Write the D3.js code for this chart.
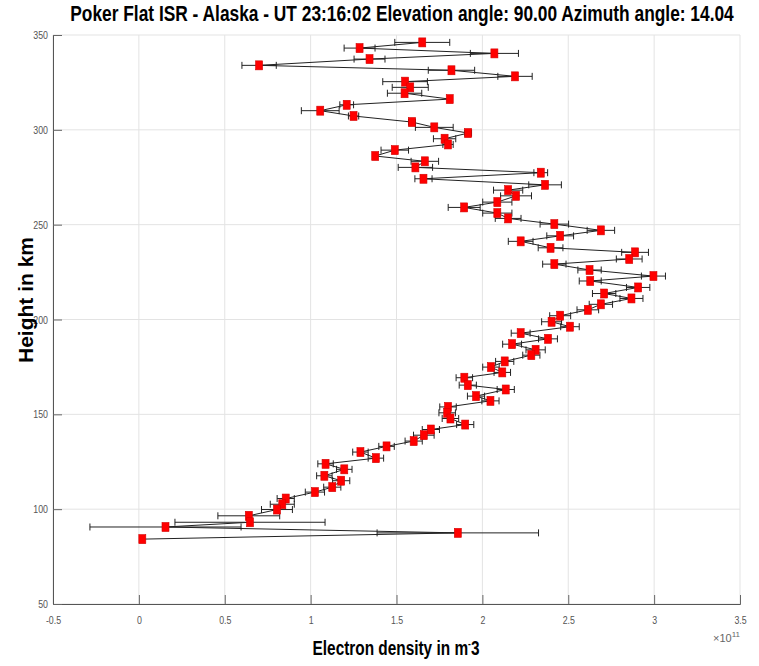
<!DOCTYPE html>
<html>
<head>
<meta charset="utf-8">
<script src="https://cdn.jsdelivr.net/npm/d3@7"></script>
<style>
    body { margin: 0; background: #fff; }
    text { font-family: "Liberation Sans", Arial, sans-serif; }
</style>
</head>
<body>
<div id="chart"></div>
<script>

// altitude in km
let heights = [346.1, 343.1, 340.3, 337.3, 334.0, 331.4, 328.2, 325.4, 322.4, 319.3,
    316.2, 313.2, 310.1, 307.3, 304.1, 301.3, 298.3, 295.3, 292.3, 289.3,
    286.2, 283.4, 280.2, 277.4, 274.2, 271.0, 268.2, 265.2, 261.9, 259.1,
    256.1, 253.3, 250.3, 247.0, 244.1, 241.2, 237.8, 235.4, 231.9, 229.2,
    226.1, 222.9, 220.3, 216.9, 213.7, 211.1, 208.0, 205.1, 202.0, 198.8,
    196.2, 192.8, 189.8, 187.0, 184.0, 181.2, 177.9, 174.9, 172.1, 169.3,
    165.4, 163.1, 159.6, 157.1, 153.9, 150.8, 147.8, 144.6, 142.0, 139.0,
    135.9, 133.1, 130.1, 126.9, 123.9, 121.0, 117.6, 115.0, 111.6, 109.0,
    105.6, 102.6, 99.8, 96.5, 93.1, 90.6, 87.5, 84.2];

// electron density, x 1e11 m^-3
let density = [1.65, 1.285, 2.07, 1.343, 0.70, 1.82, 2.19, 1.55, 1.58, 1.547,
    1.81, 1.21, 1.056, 1.25, 1.59, 1.72, 1.917, 1.78, 1.80, 1.49,
    1.376, 1.665, 1.61, 2.34, 1.657, 2.365, 2.15, 2.196, 2.087, 1.894,
    2.087, 2.15, 2.419, 2.69, 2.453, 2.223, 2.397, 2.889, 2.855, 2.419,
    2.624, 2.996, 2.628, 2.907, 2.709, 2.868, 2.69, 2.614, 2.453, 2.403,
    2.51, 2.223, 2.382, 2.173, 2.31, 2.285, 2.13, 2.05, 2.116, 1.895,
    1.915, 2.136, 1.963, 2.047, 1.80, 1.795, 1.814, 1.90, 1.70, 1.659,
    1.60, 1.442, 1.29, 1.38, 1.087, 1.196, 1.08, 1.178, 1.126, 1.025,
    0.855, 0.835, 0.804, 0.64, 0.647, 0.155, 1.857, 0.02];

// half width of the error bars
let densityErr = [0.16, 0.09, 0.14, 0.09, 0.10, 0.135, 0.10, 0.13, 0.105, 0.10,
    0.01, 0.04, 0.11, 0.03, 0.02, 0.11, 0.02, 0.065, 0.03, 0.08,
    0.01, 0.08, 0.10, 0.04, 0.05, 0.095, 0.085, 0.09, 0.085, 0.093,
    0.085, 0.075, 0.083, 0.08, 0.078, 0.072, 0.072, 0.078, 0.075, 0.068,
    0.068, 0.07, 0.064, 0.068, 0.068, 0.067, 0.068, 0.063, 0.061, 0.058,
    0.054, 0.055, 0.055, 0.055, 0.056, 0.05, 0.053, 0.048, 0.048, 0.048,
    0.05, 0.05, 0.05, 0.05, 0.048, 0.048, 0.048, 0.05, 0.05, 0.06,
    0.05, 0.045, 0.045, 0.045, 0.045, 0.045, 0.045, 0.05, 0.05, 0.056,
    0.05, 0.07, 0.09, 0.18, 0.437, 0.44, 0.47, 0.005];

let xTicks = [-0.5, 0, 0.5, 1, 1.5, 2, 2.5, 3, 3.5];
let yTicks = [50, 100, 150, 200, 250, 300, 350];

let titleText = "Poker Flat ISR - Alaska - UT 23:16:02 Elevation angle: 90.00 Azimuth angle: 14.04";


// squeeze a text horizontally so it fills a given width (matlab uses a narrow font)
function squeeze(sel, cx, cy, targetWidth){
    let len = sel.node().getComputedTextLength();
    let k = targetWidth / len;
    sel.attr('transform', `translate(${cx}, ${cy}) scale(${k}, 1)`);
}


class ProfileVis {

    constructor(parentElement){
        this.parentElement = parentElement;
        this.initVis()
    }

    initVis(){
        let vis = this;

        vis.margin = {top: 35, right: 19, bottom: 62, left: 53};
        vis.width = 759 - vis.margin.left - vis.margin.right;
        vis.height = 666 - vis.margin.top - vis.margin.bottom;

        vis.svg = d3.select("#" + vis.parentElement).append("svg")
            .attr("width", 759)
            .attr("height", 666)
            .append('g')
            .attr('transform', `translate (${vis.margin.left}, ${vis.margin.top})`);

        vis.x = d3.scaleLinear().domain([-0.5, 3.5]).range([0, vis.width]);
        vis.y = d3.scaleLinear().domain([50, 350]).range([vis.height, 0]);

        // grid
        vis.svg.append('g').selectAll('line.vgrid')
            .data(xTicks).enter().append('line')
            .attr('x1', d => vis.x(d)).attr('x2', d => vis.x(d))
            .attr('y1', 0).attr('y2', vis.height)
            .attr('stroke', '#e3e3e3').attr('stroke-width', 1);
        vis.svg.append('g').selectAll('line.hgrid')
            .data(yTicks).enter().append('line')
            .attr('y1', d => vis.y(d)).attr('y2', d => vis.y(d))
            .attr('x1', 0).attr('x2', vis.width)
            .attr('stroke', '#e3e3e3').attr('stroke-width', 1);

        // axes, ticks point inward like matlab
        vis.xAxis = d3.axisBottom(vis.x).tickValues(xTicks).tickSize(-9).tickPadding(12)
            .tickFormat(d => d);
        vis.yAxis = d3.axisLeft(vis.y).tickValues(yTicks).tickSize(-9).tickPadding(5);

        let gx = vis.svg.append('g')
            .attr('class', 'x-axis')
            .attr('transform', `translate(0, ${vis.height})`)
            .call(vis.xAxis);
        let gy = vis.svg.append('g')
            .attr('class', 'y-axis')
            .call(vis.yAxis);

        [gx, gy].forEach(g => {
            g.select('.domain').attr('stroke', '#555');
            g.selectAll('.tick line').attr('stroke', '#666');
            g.selectAll('.tick text')
                .attr('font-family', '"Liberation Sans", Arial, sans-serif')
                .attr('font-size', 11)
                .attr('fill', '#555');
        });
        gx.selectAll('.tick text').attr('transform', 'scale(0.8, 1)');
        gy.selectAll('.tick text').attr('transform', 'translate(-1, 0) scale(0.8, 1)');

        // exponent
        let ex = vis.svg.append('text')
            .attr('x', vis.width)
            .attr('y', vis.height + 38)
            .attr('text-anchor', 'end')
            .attr('font-size', 11)
            .attr('fill', '#666');
        ex.append('tspan').text('\u00d710');
        ex.append('tspan').attr('dy', -5).attr('font-size', 8).text('11');

        // title
        let title = vis.svg.append('text')
            .attr('text-anchor', 'middle')
            .attr('font-weight', 'bold')
            .attr('font-size', 22)
            .text(titleText);
        squeeze(title, 402 - vis.margin.left, -14, 664);

        // axis labels
        let xl = vis.svg.append('text')
            .attr('text-anchor', 'middle')
            .attr('font-weight', 'bold')
            .attr('font-size', 20);
        xl.append('tspan').text('Electron density in m');
        xl.append('tspan').attr('dy', -8).attr('font-size', 11).text('-');
        xl.append('tspan').attr('dy', 8).text('3');
        squeeze(xl, 396 - vis.margin.left, vis.height + 51, 167);

        vis.svg.append('text')
            .attr('transform', `translate(${33 - vis.margin.left}, ${300 - vis.margin.top}) rotate(-90)`)
            .attr('text-anchor', 'middle')
            .attr('font-weight', 'bold')
            .attr('font-size', 21)
            .text('Height in km');

        this.wrangleData();
    }

    wrangleData(){
        let vis = this

        vis.displayData = heights.map((h, i) => {
            return {h: h, n: density[i], err: densityErr[i]}
        });

        vis.updateVis()
    }

    updateVis(){
        let vis = this;

        // error bars
        let eb = vis.svg.append('g').selectAll('g.err')
            .data(vis.displayData).enter().append('g')
            .attr('class', 'err')
            .attr('stroke', '#222')
            .attr('stroke-width', 1);
        eb.append('line')
            .attr('x1', d => vis.x(d.n - d.err)).attr('x2', d => vis.x(d.n + d.err))
            .attr('y1', d => vis.y(d.h)).attr('y2', d => vis.y(d.h));
        eb.append('line')
            .attr('x1', d => vis.x(d.n - d.err)).attr('x2', d => vis.x(d.n - d.err))
            .attr('y1', d => vis.y(d.h) - 3.5).attr('y2', d => vis.y(d.h) + 3.5);
        eb.append('line')
            .attr('x1', d => vis.x(d.n + d.err)).attr('x2', d => vis.x(d.n + d.err))
            .attr('y1', d => vis.y(d.h) - 3.5).attr('y2', d => vis.y(d.h) + 3.5);

        // profile line
        vis.svg.append('path')
            .datum(vis.displayData)
            .attr('fill', 'none')
            .attr('stroke', '#222')
            .attr('stroke-width', 1)
            .attr('d', d3.line().x(d => vis.x(d.n)).y(d => vis.y(d.h)));

        // markers
        vis.svg.append('g').selectAll('rect')
            .data(vis.displayData).enter().append('rect')
            .attr('x', d => vis.x(d.n) - 3.5)
            .attr('y', d => vis.y(d.h) - 4.5)
            .attr('width', 7)
            .attr('height', 9)
            .attr('fill', '#ff0000')
            .attr('stroke', '#d40000')
            .attr('stroke-width', 0.6);
    }
}

new ProfileVis('chart');

</script>
</body>
</html>
